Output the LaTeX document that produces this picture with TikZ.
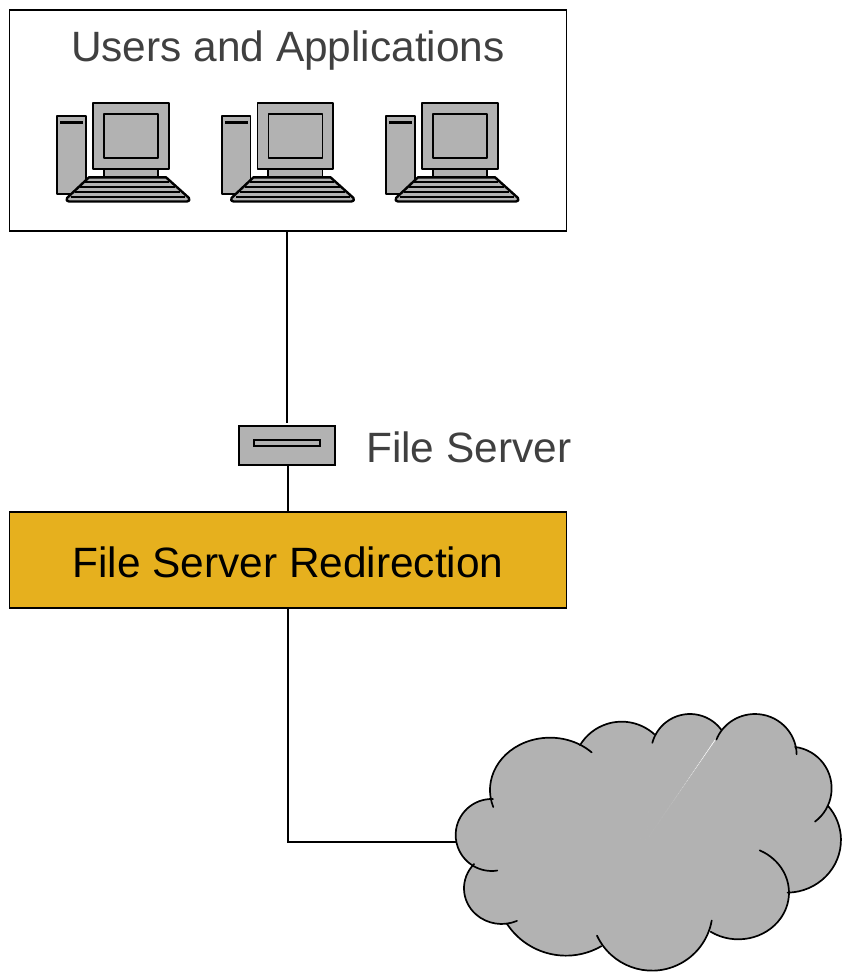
\documentclass[tikz,border=0pt]{standalone}
\usepackage{fontspec}
\setmainfont{Liberation Sans}
\definecolor{devgray}{HTML}{B2B2B2}
\definecolor{gold}{HTML}{E6B01E}
\definecolor{labelgray}{HTML}{404040}
\tikzset{
  panel/.style={draw=black,line width=1.8pt,anchor=north west,inner sep=0pt},
  link/.style={draw=black,line width=1.8pt},
  dev/.style={draw=black,fill=devgray,line width=1.8pt,line join=round},
  lobe/.style={draw=black,line width=1.7pt,line cap=round},
  lobefill/.style={fill=devgray,draw=devgray,line width=0.6pt},
  caption/.style={font=\fontsize{42.4}{42.4}\selectfont,inner sep=0pt},
  computer/.pic={
    \draw[dev] (57.3,115.7) rectangle (86,194);
    \fill[black] (60,120.5) rectangle (83.3,124);
    \draw[dev] (103.7,168) rectangle (158,178);
    \draw[dev] (93,103) rectangle (168.7,168.7);
    \draw[dev] (104,113.7) rectangle (158,157.7);
    \draw[dev,line width=2.4pt] (89,177.3) -- (166,177.3) -- (189,198) .. controls (190,200) and (189,201.5) .. (187,201.5) -- (69,201.5) .. controls (67,201.5) and (66,200) .. (67,198) -- cycle;
    \draw[black,line width=2pt] (85,182) -- (169,182);
    \draw[black,line width=2pt] (80,187) -- (175,187);
    \draw[black,line width=2.4pt] (75,192) -- (180,192);
    \draw[black,line width=2pt] (71,197) -- (185,197);
  }
}
\newcommand{\lobelist}{155/405/108/108/272/81, 330/270/180/157/161/314, 185/565/113/107/223/66, 378/555/212/212/147/60, 636/630/182/182/155/10, 895/578/152/140/123/-65, 1040/420/163/158/89/-41, 1050/265/125/125/53/-83, 945/165/125/123/-1/-158, 750/159/117/117/-37/-165, 545/211/146/146/-48/-149}
\begin{document}
\begin{tikzpicture}[x=1pt,y=-1pt]
\useasboundingbox (0,0) rectangle (845,980);
\node[panel,minimum width=557pt,minimum height=221pt] (users) at (8.6,9.1) {};
\node[panel,fill=gold,minimum width=557pt,minimum height=96pt] (redir) at (8.6,511.1) {};
\node[caption,text=labelgray] (userslabel) at (288,50.5) {Users and Applications};
\node[caption,text=black] (redirlabel) at (288,562) {File Server Redirection};
\node[caption,text=labelgray,anchor=west] (serverlabel) at (366,447.5) {File Server};
\pic at (0,0) {computer};
\pic at (164.5,0) {computer};
\pic at (329,0) {computer};
\node[draw=black,fill=devgray,line width=2pt,minimum width=96pt,minimum height=39pt,inner sep=0pt] (server) at (287,445.5) {};
\node[draw=black,fill=devgray,line width=1.6pt,minimum width=66pt,minimum height=5.5pt,inner sep=0pt] (slot) at (287,443) {};
\coordinate (cloudport) at (456,842);
\coordinate (topgap) at (287,422.5);
\draw[link] (users.south -| topgap) -- (topgap);
\draw[link] (redir.north) -- (redir.north |- server.south);
\draw[link] (redir.south) |- (cloudport);
\begin{scope}[shift={(440,700)},x=0.3333pt,y=-0.3333pt]
\coordinate (hub) at (620,420);
\foreach \cx/\cy/\rx/\ry/\a/\b in \lobelist {
  \path[lobefill] (\cx,\cy) ++({\rx*cos(\a)},{\ry*sin(\a)}) arc[start angle=\a,end angle=\b,x radius=\rx,y radius=\ry] -- (hub) -- cycle;
}
\foreach \cx/\cy/\rx/\ry/\a/\b in \lobelist {
  \draw[lobe] (\cx,\cy) ++({\rx*cos(\a)},{\ry*sin(\a)}) arc[start angle=\a,end angle=\b,x radius=\rx,y radius=\ry];
}
\end{scope}
\end{tikzpicture}
\end{document}
